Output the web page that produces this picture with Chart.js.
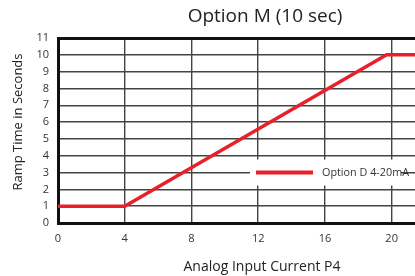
<!DOCTYPE html>
<html>
<head>
<meta charset="utf-8">
<script src="https://cdn.jsdelivr.net/npm/chart.js@4/dist/chart.umd.min.js"></script>
<style>
  html, body { margin: 0; padding: 0; background: #fff; }
  #wrap { width: 415px; height: 276px; }
</style>
</head>
<body>
<div id="wrap"><canvas id="chart" width="415" height="276"></canvas></div>
<script>
// data
const currentMA = [0, 4, 19.7, 21.4];
const rampSec = [1, 1, 10, 10];
const xTicks = [0, 4, 8, 12, 16, 20];
const seriesLabel = "Option D 4-20mA";
const chartTitle = "Option M (10 sec)";
const xTitle = "Analog Input Current P4";
const yTitle = "Ramp Time in Seconds";

const FONT = "'Open Sans', 'Noto Sans', sans-serif";
const RED = "#e8202a";

// titles and the boxed legend are drawn by hand to sit where the original puts them
const decor = {
  id: "decor",
  afterDraw(chart) {
    const ctx = chart.ctx;
    const ys = chart.scales.y;
    ctx.save();
    ctx.fillStyle = "#222";
    ctx.textAlign = "center";
    ctx.textBaseline = "middle";
    ctx.font = "19px " + FONT;
    ctx.fillText(chartTitle, 265, 17);
    ctx.font = "14px " + FONT;
    ctx.fillText(xTitle, 262, 267);
    ctx.translate(18, 122);
    ctx.rotate(-Math.PI / 2);
    ctx.font = "13px " + FONT;
    ctx.fillText(yTitle, 0, 0);
    ctx.restore();

    // legend on the 3 s grid line
    const ly = ys.getPixelForValue(3);
    ctx.save();
    ctx.fillStyle = "#fff";
    ctx.fillRect(250, ly - 13, 151, 26);
    ctx.strokeStyle = RED;
    ctx.lineWidth = 4;
    ctx.beginPath();
    ctx.moveTo(256, ly);
    ctx.lineTo(313, ly);
    ctx.stroke();
    ctx.fillStyle = "#333";
    ctx.font = "10.8px " + FONT;
    ctx.textAlign = "left";
    ctx.textBaseline = "middle";
    ctx.fillText(seriesLabel, 322, ly);
    ctx.restore();
  }
};

new Chart(document.getElementById("chart"), {
  type: "line",
  data: {
    datasets: [{
      label: seriesLabel,
      data: currentMA.map((x, i) => ({ x: x, y: rampSec[i] })),
      borderColor: RED,
      borderWidth: 3.5,
      pointRadius: 0,
      tension: 0,
      clip: false
    }]
  },
  options: {
    responsive: false,
    animation: false,
    layout: { padding: { top: 38, right: 0, left: 0, bottom: 0 } },
    plugins: { legend: { display: false }, title: { display: false }, tooltip: { enabled: false } },
    scales: {
      x: {
        type: "linear",
        min: 0,
        max: 21.4,
        afterBuildTicks: s => { s.ticks = xTicks.map(v => ({ value: v })); },
        afterFit: s => { s.height = 53; },
        ticks: { color: "#333", font: { family: FONT, size: 11 }, padding: 9, maxRotation: 0 },
        grid: { color: "#444", lineWidth: 1.4, drawTicks: false },
        border: { color: "#111", width: 3 }
      },
      y: {
        min: 0,
        max: 11,
        afterFit: s => { s.width = 58; },
        ticks: { stepSize: 1, color: "#333", font: { family: FONT, size: 11 }, padding: 9 },
        grid: {
          color: ctx => ctx.tick && ctx.tick.value === 11 ? "#111" : "#444",
          lineWidth: ctx => ctx.tick && ctx.tick.value === 11 ? 3 : 1.4,
          drawTicks: false
        },
        border: { color: "#111", width: 3 }
      }
    }
  },
  plugins: [decor]
});
</script>
</body>
</html>
